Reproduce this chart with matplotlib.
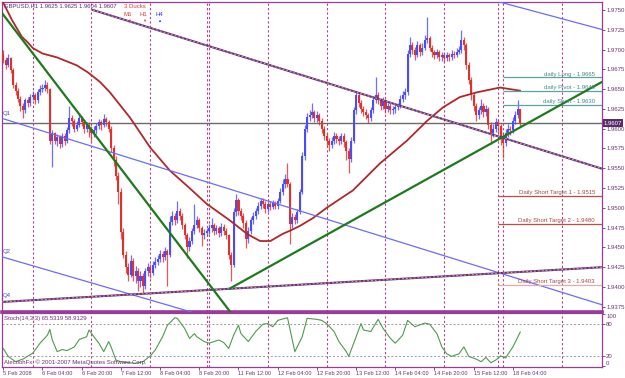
import numpy as np
import matplotlib
matplotlib.use("Agg")
import matplotlib.pyplot as plt
from matplotlib import transforms

plt.rcParams['font.family'] = ['Liberation Sans', 'DejaVu Sans']

# prices are stored as pips above BASE (1.9000); bars are H1, bar 0 = 5 Feb 12:00
BASE = 1.9

bar_open = [695, 687, 680, 689, 674, 655, 648, 638, 629, 623,
            636, 632, 640, 642, 636, 646, 650, 652, 655, 650,
            585, 594, 585, 589, 581, 591, 585, 598, 613, 610,
            600, 605, 613, 608, 600, 605, 600, 595, 598, 603,
            608, 605, 612, 608, 600, 575, 560, 540, 520, 470,
            440, 425, 415, 433, 414, 420, 407, 414, 401, 420,
            425, 418, 428, 432, 435, 442, 438, 445, 440, 482,
            490, 484, 496, 490, 478, 465, 451, 458, 471, 478,
            484, 474, 465, 468, 471, 474, 478, 471, 474, 468,
            476, 471, 465, 440, 428, 495, 510, 496, 490, 481,
            461, 471, 484, 490, 496, 502, 509, 505, 498, 505,
            501, 506, 502, 509, 520, 530, 537, 530, 480, 488,
            485, 495, 520, 565, 600, 615, 617, 621, 613, 617,
            610, 600, 591, 585, 579, 585, 591, 587, 585, 591,
            583, 572, 562, 585, 623, 642, 632, 625, 621, 617,
            613, 623, 636, 642, 636, 629, 636, 625, 629, 623,
            625, 627, 629, 638, 642, 646, 695, 706, 699, 693,
            706, 697, 702, 712, 714, 702, 697, 693, 697, 690,
            693, 689, 693, 690, 695, 693, 697, 699, 712, 706,
            680, 661, 642, 629, 617, 623, 629, 621, 625, 605,
            595, 600, 608, 603, 590, 582, 595, 600, 598, 610,
            617, 625]
bar_high = [699, 690, 694, 691, 677, 659, 651, 641, 632, 639,
            640, 644, 647, 645, 650, 655, 657, 661, 659, 652,
            598, 596, 593, 592, 595, 594, 602, 629, 617, 612,
            610, 618, 616, 611, 609, 608, 603, 604, 607, 612,
            611, 619, 615, 611, 603, 579, 565, 545, 525, 475,
            446, 430, 440, 437, 426, 424, 420, 417, 424, 430,
            429, 433, 438, 440, 447, 446, 450, 448, 490, 496,
            494, 509, 500, 493, 481, 468, 463, 475, 505, 490,
            487, 477, 473, 475, 479, 487, 481, 478, 477, 481,
            479, 474, 467, 444, 500, 518, 513, 500, 493, 484,
            476, 488, 495, 500, 507, 513, 512, 508, 509, 508,
            510, 509, 513, 525, 536, 543, 556, 533, 493, 492,
            499, 524, 570, 605, 620, 624, 632, 624, 622, 620,
            613, 603, 595, 588, 590, 596, 594, 591, 595, 594,
            586, 575, 590, 628, 648, 645, 636, 629, 625, 620,
            627, 641, 665, 646, 639, 640, 638, 633, 632, 629,
            631, 633, 642, 647, 652, 700, 716, 710, 703, 711,
            708, 708, 718, 741, 717, 706, 700, 701, 700, 697,
            696, 697, 696, 699, 698, 702, 704, 725, 716, 708,
            684, 665, 646, 633, 628, 638, 632, 630, 627, 608,
            606, 614, 611, 606, 594, 600, 606, 604, 615, 622,
            636, 625]
bar_low = [683, 676, 678, 670, 651, 643, 634, 622, 614, 620,
           627, 629, 636, 631, 633, 643, 646, 648, 645, 581,
           551, 580, 578, 575, 577, 579, 582, 595, 604, 596,
           597, 602, 603, 594, 596, 589, 585, 590, 593, 599,
           598, 602, 603, 596, 570, 553, 535, 505, 460, 437,
           418, 407, 412, 408, 405, 395, 400, 391, 398, 414,
           411, 415, 424, 428, 431, 432, 434, 401, 438, 478,
           478, 481, 485, 473, 460, 437, 446, 454, 467, 474,
           469, 452, 460, 465, 467, 470, 466, 467, 463, 464,
           466, 460, 435, 407, 425, 490, 491, 484, 474, 449,
           456, 467, 480, 486, 492, 499, 500, 493, 495, 497,
           498, 498, 499, 506, 516, 525, 526, 454, 475, 480,
           481, 492, 517, 560, 596, 610, 613, 608, 609, 605,
           595, 586, 578, 572, 575, 581, 582, 579, 581, 577,
           560, 544, 558, 582, 619, 627, 620, 616, 612, 607,
           610, 620, 632, 631, 624, 625, 620, 621, 619, 619,
           620, 623, 626, 634, 638, 643, 690, 694, 687, 690,
           692, 693, 699, 708, 698, 691, 688, 689, 685, 686,
           684, 686, 685, 687, 689, 690, 694, 696, 700, 675,
           656, 636, 622, 610, 612, 619, 615, 616, 600, 581,
           590, 596, 595, 579, 563, 578, 589, 592, 595, 606,
           613, 604]
bar_close = [687, 680, 689, 674, 655, 648, 638, 629, 623, 636,
             632, 640, 642, 636, 646, 650, 652, 655, 650, 585,
             594, 585, 589, 581, 591, 585, 598, 613, 610, 600,
             605, 613, 608, 600, 605, 600, 595, 598, 603, 608,
             605, 612, 608, 600, 575, 560, 540, 520, 470, 440,
             425, 415, 433, 414, 420, 407, 414, 401, 420, 425,
             418, 428, 432, 435, 442, 438, 445, 440, 482, 490,
             484, 496, 490, 478, 465, 451, 458, 471, 478, 484,
             474, 465, 468, 471, 474, 478, 471, 474, 468, 476,
             471, 465, 440, 428, 495, 510, 496, 490, 481, 461,
             471, 484, 490, 496, 502, 509, 505, 498, 505, 501,
             506, 502, 509, 520, 530, 537, 530, 480, 488, 485,
             495, 520, 565, 600, 615, 617, 621, 613, 617, 610,
             600, 591, 585, 579, 585, 591, 587, 585, 591, 583,
             572, 562, 585, 623, 642, 632, 625, 621, 617, 613,
             623, 636, 642, 636, 629, 636, 625, 629, 623, 625,
             627, 629, 638, 642, 646, 695, 706, 699, 693, 706,
             697, 702, 712, 714, 702, 697, 693, 697, 690, 693,
             689, 693, 690, 695, 693, 697, 699, 712, 706, 680,
             661, 642, 629, 617, 623, 629, 621, 625, 605, 595,
             600, 608, 603, 590, 582, 595, 600, 598, 610, 617,
             625, 607]

ma_bars = [0, 3.6, 7.6, 10, 12, 16, 22, 30, 34.6, 39.5, 43.5, 51.7, 60, 68, 76, 83,
           92.5, 99.5, 104.8, 109, 114, 117, 121, 126.4, 132, 142.7, 153.7, 164.8,
           173, 179.5, 186.4, 193.4, 202.7, 206.8, 210.9]
ma_pips = [759, 737, 716, 709, 702, 695, 690, 680, 671, 659, 646, 614, 576, 547, 525, 505,
           484, 467, 458, 458, 467, 471, 477, 487, 500, 522, 556, 585,
           610, 627, 640, 646, 652, 650, 648]

# Stoch(14,3,3) main line
stoch_bars = [0, 2, 5, 8, 12, 15, 18, 19, 20, 22, 24, 26, 29, 31, 34, 35, 37, 39, 41, 43,
              44, 46, 48, 51, 54, 57, 60, 62, 65, 67, 70, 71, 74, 76, 78, 79, 82, 84, 88,
              90, 92, 94, 96, 97, 100, 103, 106, 108, 110, 112, 115, 116, 119, 122, 124,
              128, 130, 132, 135, 137, 140, 141, 144, 146, 147, 150, 153, 155, 158, 160,
              163, 165, 168, 172, 174, 177, 179, 181, 183, 186, 188, 190, 193, 195, 197,
              199, 201, 203, 205, 208, 211]
stoch_vals = [34, 19, 9, 14, 25, 44, 59, 70, 50, 28, 32, 30, 37, 51, 56, 69, 56, 44, 28, 47,
              37, 12, 9, 7, 6, 9, 20, 31, 56, 78, 92, 91, 72, 53, 62, 56, 47, 44, 50,
              45, 34, 59, 78, 62, 47, 66, 80, 81, 75, 87, 91, 92, 28, 56, 91,
              89, 87, 81, 66, 47, 28, 19, 56, 81, 69, 66, 89, 72, 53, 44,
              59, 87, 75, 82, 80, 62, 37, 24, 19, 24, 37, 19, 14, 9, 17,
              7, 12, 20, 16, 37, 65]
stoch_main, stoch_signal = 65.5319, 58.9129

day_breaks = [12, 36, 60, 83, 84, 108, 132, 156, 180, 202, 204, 228]

date_ticks = [0, 16, 32, 48, 64, 80, 96, 112, 128, 144, 160, 176, 192, 208]
date_labels = ['5 Feb 2008', '6 Feb 04:00', '6 Feb 20:00', '7 Feb 12:00', '8 Feb 04:00',
               '8 Feb 20:00', '11 Feb 12:00', '12 Feb 04:00', '12 Feb 20:00', '13 Feb 12:00',
               '14 Feb 04:00', '14 Feb 20:00', '15 Feb 12:00', '18 Feb 04:00']

price_ticks = [1.9375, 1.9400, 1.9425, 1.9450, 1.9475, 1.9500, 1.9525, 1.9550,
               1.9575, 1.9600, 1.9625, 1.9650, 1.9675, 1.9700, 1.9725, 1.9750]

# trend lines as (bars, pips) end points
green_down = ([-0.5, 92.5], [746, 369])
green_up = ([92.5, 244.3], [398, 659])
chan_q1 = ([-0.5, 244.8], [613, 377])
chan_q2 = ([-0.5, 78.2], [438, 367])
chan_q3 = ([201.5, 244.8], [761, 725])
twin_top = ([36.6, 244.8], [750, 549])
twin_low = ([-0.5, 244.8], [381, 425])

daily_names = ['daily Long', 'daily Pivot', 'daily Short']
daily_pips = [665, 648, 630]
target_names = ['Daily Short Target 1', 'Daily Short Target 2', 'Daily Short Target 3']
target_pips = [515, 480, 403]
target_colors = ['#c44a4a', '#c44a4a', '#e6aaaa']

BULL, BEAR = '#4a4aff', '#e2302a'
FRAME = '#9a3a9a'
TXT = '#6a3470'
SEP = '#b04488'
FS = 4.3


def price(p):
    return BASE + np.asarray(p, dtype=float) / 10000.0


W, H = 625, 378
fig = plt.figure(figsize=(W / 100, H / 100), dpi=100)
ax = fig.add_axes([2 / W, 1 - 312 / H, 600 / W, 310 / H])
ax_st = fig.add_axes([2 / W, 1 - 367 / H, 600 / W, 54 / H], sharex=ax)


def fig_text(xp, yp, s, **kw):
    kw.setdefault('fontsize', FS)
    kw.setdefault('va', 'center')
    fig.text(xp / W, 1 - yp / H, s, **kw)


# day separators
for a in (ax, ax_st):
    for b in day_breaks:
        a.axvline(b, color=SEP, lw=0.8, ls=(0, (2, 2)), zorder=1)

# candles
x = np.arange(len(bar_close))
o, hi, lo, c = (price(a) for a in (bar_open, bar_high, bar_low, bar_close))
cols = np.where(c >= o, BULL, BEAR)
ax.vlines(x, lo, hi, colors=cols, lw=0.9, alpha=0.8, zorder=3)
ax.bar(x, np.maximum(np.abs(c - o), 0.00004), bottom=np.minimum(o, c), width=0.85,
       color=cols, lw=0, zorder=3)

# current price line
last = price(bar_close[-1])
ax.axhline(last, color='#6a6a6a', lw=1, zorder=2)

# moving average
ax.plot(ma_bars, price(ma_pips), color='#b3262a', lw=1.3, zorder=4)

# trend lines
for bars, pips in (chan_q1, chan_q2, chan_q3):
    ax.plot(bars, price(pips), color='#6b6bff', lw=0.9, zorder=4)
for bars, pips in (green_down, green_up):
    ax.plot(bars, price(pips), color='#1d7a1d', lw=1.6, zorder=5)
for bars, pips in (twin_top, twin_low):
    ax.plot(bars, price(pips), color='#5a2d9c', lw=1.5, zorder=4)
    ax.plot(bars, price(pips), color='#f5a442', lw=0.7, ls=(0, (2, 2)), zorder=4)

# daily levels
XMIN, XMAX = -0.53, 244.37
for name, val in zip(daily_names, daily_pips):
    p = price(val)
    ax.hlines(p, 204, XMAX, color='#5aa3a3', lw=0.9, zorder=4)
    ax.text(241.5, p + 0.00008, f'{name} - {p:.4f}', ha='right', va='bottom',
            fontsize=FS, color='#4a8686', zorder=6)
for name, val, col in zip(target_names, target_pips, target_colors):
    p = price(val)
    ax.hlines(p, 202, XMAX, color=col, lw=0.9, zorder=4)
    ax.text(241.5, p + 0.00008, f'{name} - {p:.4f}', ha='right', va='bottom',
            fontsize=FS, color='#a54848', zorder=6)

ax.set_xlim(XMIN, XMAX)
ax.set_ylim(1.93683, 1.97601)

# right price scale
ax.yaxis.tick_right()
ax.set_yticks(price_ticks)
ax.set_yticklabels([f'{t:.4f}' for t in price_ticks])
ax.tick_params(axis='y', labelsize=FS, colors=TXT, length=2, pad=1, width=0.6)
ax.tick_params(axis='x', bottom=False, labelbottom=False)
trans = transforms.blended_transform_factory(ax.transAxes, ax.transData)
ax.text(1.003, last, f'{last:.4f}', transform=trans, ha='left', va='center', fontsize=FS,
        color='white', zorder=7, clip_on=False,
        bbox=dict(facecolor='#5b2a6e', edgecolor='none', pad=0.9))

for s in ax.spines.values():
    s.set_color(FRAME)
    s.set_linewidth(0.9)
ax.spines['bottom'].set_linewidth(2.6)

# header and chart annotations
o_l, h_l, l_l = price(bar_open[-1]), price(bar_high[-1]), price(bar_low[-1])
fig_text(4, 6, f'GBPUSD,H1 {o_l:.4f} {h_l:.4f} {l_l:.4f} {last:.4f}', color='#5a2e6e',
         fontsize=4.2)
fig_text(124, 6, '3 Ducks', color='#e03a3a')
fig_text(124, 15, 'M5', color='#e03a3a')
fig_text(140, 15, 'H1', color='#e03a3a')
fig_text(156, 15, 'H4', color='#3a3ae0')
fig_text(127, 21, '▼', color='#e03a3a', fontsize=3)
fig_text(142, 21, '▼', color='#e03a3a', fontsize=3)
fig_text(157, 21, '▲', color='#3a3ae0', fontsize=3)
fig_text(3, 113, 'Q1', color='#4a4ae0')
fig_text(3, 252, 'Q2', color='#4a4ae0')
fig_text(3, 296, 'Q4', color='#4a4ae0')

# stochastic panel
ax_st.plot(stoch_bars, stoch_vals, color='#4f9a4f', lw=0.8, zorder=3)
for lvl in (20, 80):
    ax_st.axhline(lvl, color='#9a9a9a', lw=0.7, ls=(0, (2, 2)), zorder=1)
ax_st.set_ylim(-1, 101)
ax_st.yaxis.tick_right()
ax_st.set_yticks([0, 20, 80, 100])
ax_st.set_yticklabels(['0', '20', '80', '100'])
ax_st.tick_params(axis='y', labelsize=FS, colors=TXT, length=2, pad=1, width=0.6)
ylabels = ax_st.get_yticklabels()
ylabels[0].set_va('bottom')
ylabels[-1].set_va('top')
ax_st.set_xticks(date_ticks)
ax_st.set_xticklabels(date_labels, ha='left')
ax_st.tick_params(axis='x', labelsize=4.1, colors=TXT, length=2, pad=1, width=0.6)
for s in ax_st.spines.values():
    s.set_color(FRAME)
    s.set_linewidth(0.9)
ax_st.text(0.004, 0.9, f'Stoch(14,3,3) {stoch_main:.4f} {stoch_signal:.4f}',
           transform=ax_st.transAxes, fontsize=FS, color=TXT, va='center')
ax_st.text(0.004, 0.09, 'AlecoohFx, © 2001-2007 MetaQuotes Software Corp.',
           transform=ax_st.transAxes, fontsize=FS, color=TXT, va='center')

fig.savefig('out.png', dpi=100, facecolor='white')
